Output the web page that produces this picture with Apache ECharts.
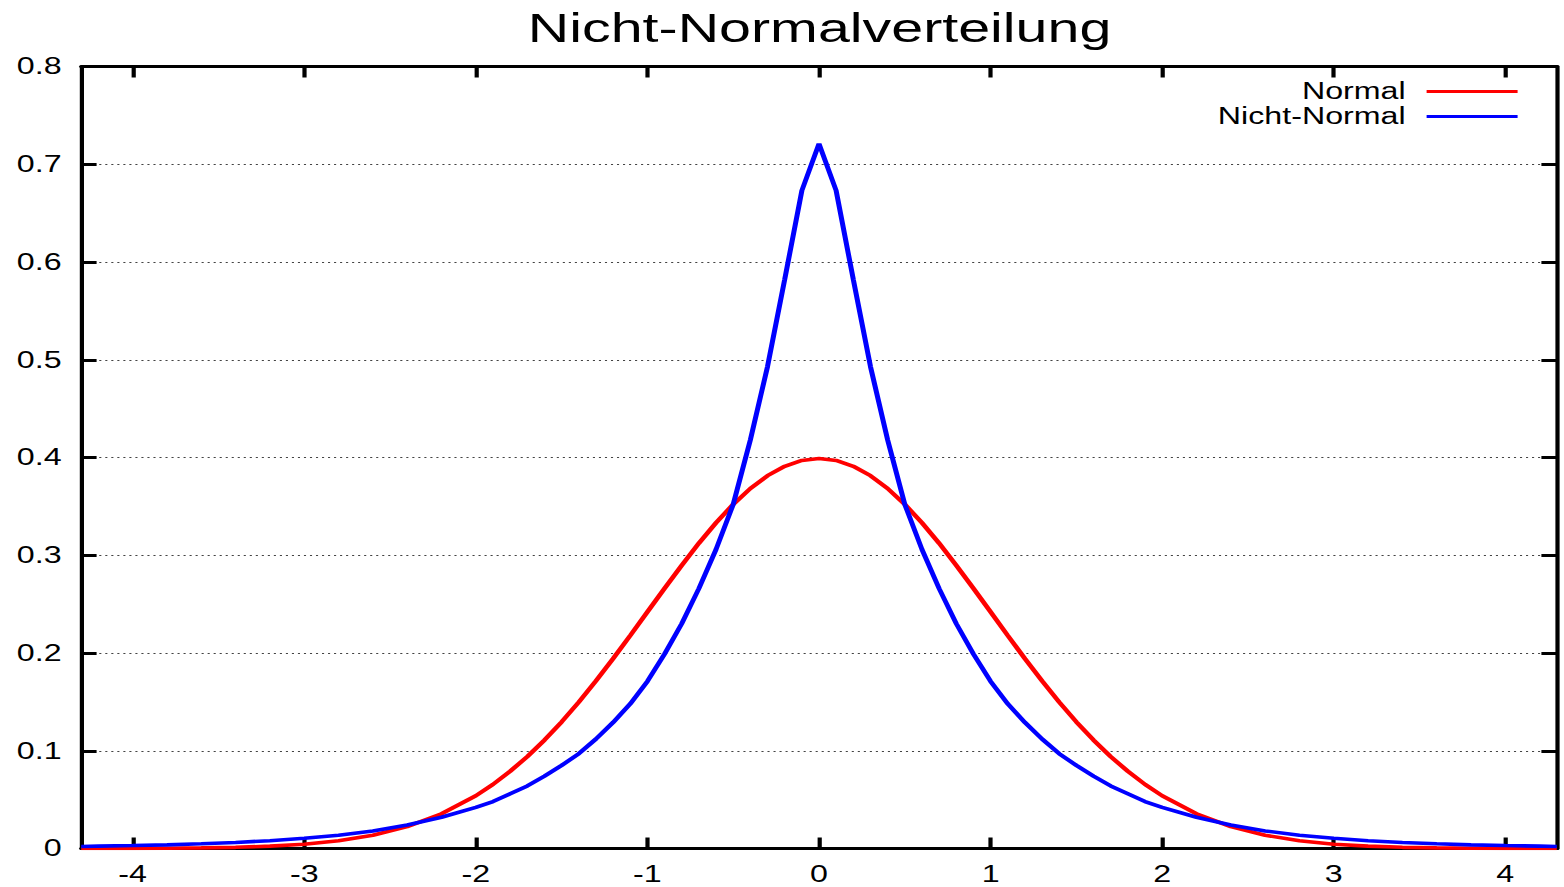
<!DOCTYPE html>
<html>
<head>
<meta charset="utf-8">
<script src="https://cdn.jsdelivr.net/npm/echarts@6/dist/echarts.min.js"></script>
<style>
html,body{margin:0;padding:0;background:#fff;overflow:hidden;}
#chart{width:1117px;height:887px;transform:scaleX(1.4);transform-origin:0 0;}
</style>
</head>
<body>
<div id="chart"></div>
<script>
var titleText = 'Nicht-Normalverteilung';
var seriesNames = ['Normal', 'Nicht-Normal'];
var xTicks = [-4, -3, -2, -1, 0, 1, 2, 3, 4];
var yTicks = [0, 0.1, 0.2, 0.3, 0.4, 0.5, 0.6, 0.7, 0.8];

var xs = [-4.3,-4.2,-4.0,-3.8,-3.6,-3.4,-3.2,-3.0,-2.8,-2.6,-2.4,-2.2,
  -2.0,-1.9,-1.8,-1.7,-1.6,-1.5,-1.4,-1.3,-1.2,-1.1,-1.0,-0.9,-0.8,-0.7,-0.6,-0.5,-0.4,-0.3,-0.2,-0.1,0,
  0.1,0.2,0.3,0.4,0.5,0.6,0.7,0.8,0.9,1.0,1.1,1.2,1.3,1.4,1.5,1.6,1.7,1.8,1.9,2.0,
  2.2,2.4,2.6,2.8,3.0,3.2,3.4,3.6,3.8,4.0,4.2,4.3];

var normalY = [0.0000,0.0001,0.0001,0.0003,0.0006,0.0012,0.0024,0.0044,0.0079,0.0136,0.0224,0.0355,
  0.0540,0.0656,0.0790,0.0940,0.1109,0.1295,0.1497,0.1714,0.1942,0.2179,0.2420,0.2661,0.2897,0.3123,0.3332,0.3521,0.3683,0.3814,0.3910,0.3970,0.3989,
  0.3970,0.3910,0.3814,0.3683,0.3521,0.3332,0.3123,0.2897,0.2661,0.2420,0.2179,0.1942,0.1714,0.1497,0.1295,0.1109,0.0940,0.0790,0.0656,0.0540,
  0.0355,0.0224,0.0136,0.0079,0.0044,0.0024,0.0012,0.0006,0.0003,0.0001,0.0001,0.0000];

var nichtNormalY = [0.0021,0.0024,0.0030,0.0037,0.0048,0.0062,0.0080,0.0105,0.0135,0.0180,0.0240,0.0320,
  0.042,0.048,0.056,0.064,0.074,0.085,0.097,0.112,0.129,0.148,0.171,0.199,0.230,0.266,0.306,0.352,0.418,0.493,0.582,0.673,0.721,
  0.673,0.582,0.493,0.418,0.352,0.306,0.266,0.230,0.199,0.171,0.148,0.129,0.112,0.097,0.085,0.074,0.064,0.056,0.048,0.042,
  0.0320,0.0240,0.0180,0.0135,0.0105,0.0080,0.0062,0.0048,0.0037,0.0030,0.0024,0.0021];

var FONT = "'Liberation Sans', Arial, sans-serif";

function pairs(ys) { return xs.map(function (x, i) { return [x, ys[i]]; }); }

var chart = echarts.init(document.getElementById('chart'), null, {renderer: 'svg'});

var axisLineStyle = {color: '#000', width: 3};
var tickStyle = {color: '#000', width: 3};

chart.setOption({
  animation: false,
  backgroundColor: '#fff',
  title: {
    text: titleText,
    left: 377,
    top: 8,
    padding: 0,
    textStyle: {fontFamily: FONT, fontSize: 41, fontWeight: 'normal', color: '#000'}
  },
  legend: {
    data: seriesNames,
    orient: 'vertical',
    align: 'right',
    right: 33,
    top: 80,
    padding: 0,
    icon: 'rect',
    itemWidth: 65,
    itemHeight: 3,
    itemGap: 2,
    textStyle: {fontFamily: FONT, fontSize: 23, color: '#000', padding: [0, 10, 0, 0]}
  },
  grid: {left: 58, right: 5, top: 66.5, bottom: 38.5, containLabel: false},
  xAxis: [{
    type: 'value', min: -4.3, max: 4.3, position: 'bottom',
    axisLine: {show: true, onZero: false, lineStyle: axisLineStyle},
    axisTick: {show: true, inside: true, length: 11, lineStyle: tickStyle, customValues: xTicks},
    axisLabel: {show: true, margin: 14, fontFamily: FONT, fontSize: 23, color: '#000', customValues: xTicks},
    splitLine: {show: false}
  }, {
    type: 'value', min: -4.3, max: 4.3, position: 'top',
    axisLine: {show: true, onZero: false, lineStyle: axisLineStyle},
    axisTick: {show: true, inside: true, length: 11, lineStyle: tickStyle, customValues: xTicks},
    axisLabel: {show: false},
    splitLine: {show: false}
  }],
  yAxis: [{
    type: 'value', min: 0, max: 0.8, interval: 0.1, position: 'left',
    axisLine: {show: true, onZero: false, lineStyle: axisLineStyle},
    axisTick: {show: true, inside: true, length: 11, lineStyle: tickStyle},
    axisLabel: {show: true, margin: 14, fontFamily: FONT, fontSize: 23, color: '#000',
      formatter: function (v) { return String(Math.round(v * 10) / 10); }},
    splitLine: {show: true, lineStyle: {color: '#444', width: 1, type: [1.5, 2.8]}}
  }, {
    type: 'value', min: 0, max: 0.8, interval: 0.1, position: 'right',
    axisLine: {show: true, onZero: false, lineStyle: axisLineStyle},
    axisTick: {show: true, inside: true, length: 11, lineStyle: tickStyle},
    axisLabel: {show: false},
    splitLine: {show: false}
  }],
  series: [{
    name: seriesNames[0], type: 'line', xAxisIndex: 0, yAxisIndex: 0,
    data: pairs(normalY), symbol: 'none', smooth: false,
    lineStyle: {color: '#ff0000', width: 3.6}, itemStyle: {color: '#ff0000'}, z: 3
  }, {
    name: seriesNames[1], type: 'line', xAxisIndex: 0, yAxisIndex: 0,
    data: pairs(nichtNormalY), symbol: 'none', smooth: false,
    lineStyle: {color: '#0000ff', width: 3.6}, itemStyle: {color: '#0000ff'}, z: 4
  }]
});
</script>
</body>
</html>
